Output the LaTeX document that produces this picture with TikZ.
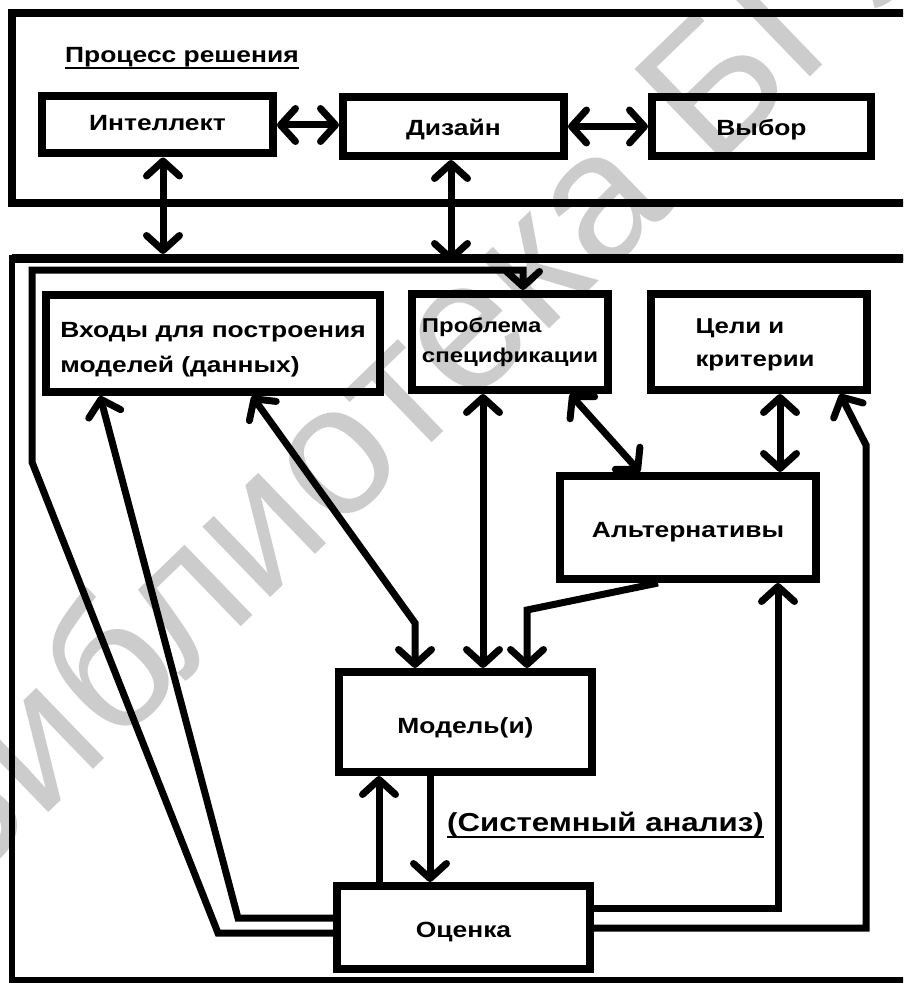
\documentclass[tikz,border=0pt]{standalone}
\usepackage{fontspec}
\setmainfont{Liberation Sans}
\newfontfamily\labfont{Liberation Sans}[FakeStretch=1.2]
\usetikzlibrary{arrows.meta}

\begin{document}
\begin{tikzpicture}[x=1pt, y=-1pt,
  lab/.style={font=\labfont\bfseries\fontsize{22pt}{35pt}\selectfont},
  box/.style={draw, line width=8pt, inner sep=0pt, align=left, lab},
  base/.style={text height=#1, text depth=0pt},
  link/.style={line width=7pt},
  frame/.style={line width=8pt},
  >={Straight Barb[length=15pt, width=33pt, round]}
]
\useasboundingbox (0,0) rectangle (903,984);
\clip (0,0) rectangle (903,984);

% watermark behind the diagram
\node[rotate=44, anchor=base west, inner sep=0pt, text=black!20,
      font=\fontsize{185pt}{185pt}\selectfont] (wm) at (-48,906) {Библиотека БГУИР};

% outer frames
\draw[frame] (910,13) -- (12,13) -- (12,203) -- (910,203);
\draw[line width=6pt] (910,258) -- (12,258) -- (12,980) -- (910,980);
\draw[line width=9pt] (12,258) -- (910,258);

% decision process
\node[anchor=base west, inner sep=0pt, lab] (proc) at (65,63) {Процесс решения};
\draw[line width=2pt] ([yshift=-5pt]proc.base west) -- ([yshift=-5pt]proc.base east);

\node[box, base=12pt, minimum width=231pt, minimum height=57pt] (intel)  at (157.5,125) {Интеллект};
\node[box, base=19pt, minimum width=221pt, minimum height=59pt] (dizain) at (453.5,126.5) {Дизайн};
\node[box, base=19pt, minimum width=219pt, minimum height=59pt] (vybor)  at (761.5,126.5) {Выбор};

\draw[link,<->] (intel.east) -- (intel.east -| dizain.west);
\draw[link,<->] (dizain.east) -- (vybor.west);

\coordinate (iDown) at (163,254);
\coordinate (dDown) at (451,262);
\draw[link,<->] (intel.south -| iDown) -- (iDown);
\draw[link,<->] (dizain.south -| dDown) -- (dDown);

% system analysis
\node[box, minimum width=334pt, minimum height=97pt] (vhody) at (213,343.5)
  {\rule{0pt}{27pt}Входы для построения\\моделей (данных)};
\node[box, minimum width=196pt, minimum height=96pt,
      font=\labfont\bfseries\fontsize{20pt}{30pt}\selectfont] (problema) at (510,342)
  {Проблема\\спецификации};
\node[box, minimum width=216pt, minimum height=96pt,
      font=\labfont\bfseries\fontsize{21.5pt}{33pt}\selectfont] (celi) at (759,342)
  {\rule{0pt}{20pt}Цели и\\критерии\hspace*{8pt}};
\node[box, base=19pt, minimum width=256pt, minimum height=103pt] (alt) at (688,527.5) {Альтернативы};
\node[box, base=22pt, minimum width=253pt, minimum height=100pt] (model) at (465.5,722) {Модель(и)};
\node[box, base=19pt, minimum width=253pt, minimum height=83pt] (ocenka) at (463.5,927.5) {Оценка};

\node[anchor=base west, inner sep=0pt, font=\labfont\bfseries\fontsize{26pt}{30pt}\selectfont]
  (sa) at (447,831) {(Системный анализ)};
\draw[line width=2pt] ([yshift=-6pt]sa.base west) -- ([yshift=-6pt]sa.base east);

% connector columns
\coordinate (xVin)  at (100,0);
\coordinate (xVm)   at (252,0);
\coordinate (xPm)   at (483,0);
\coordinate (xPa)   at (570,0);
\coordinate (xAp)   at (640,0);
\coordinate (xCa)   at (780,0);
\coordinate (xAm)   at (658,0);
\coordinate (xMa)   at (527,0);
\coordinate (xMv)   at (415,0);
\coordinate (xUp)   at (379,0);
\coordinate (xDn)   at (430,0);
\coordinate (xOa)   at (778,0);
\coordinate (xOc)   at (840,0);
\coordinate (pin)   at (523,270);

% feedback from evaluation to the problem specification
\draw[link,->] ([yshift=-5.5pt]ocenka.west) -- (218,933) -- (32,462) -- (32,270)
  -- (pin) -- (pin |- problema.north);
% feedback from evaluation to the inputs
\draw[link,->] ([yshift=9.5pt]ocenka.west) -- (238,918) -- (vhody.south -| xVin);
% inputs and models
\draw[link,<->] (vhody.south -| xVm) -- (415,623) -- (model.north -| xMv);
% problem and models
\draw[link,<->] (problema.south -| xPm) -- (model.north -| xPm);
% problem and alternatives
\draw[link,<->] (problema.south -| xPa) -- (alt.north -| xAp);
% goals and alternatives
\draw[link,<->] (celi.south -| xCa) -- (alt.north -| xCa);
% alternatives to models
\draw[link,->] (alt.south -| xAm) -- (527,610) -- (model.north -| xMa);
% models and evaluation
\draw[link,->] (ocenka.north -| xUp) -- (model.south -| xUp);
\draw[link,->] (model.south -| xDn) -- (ocenka.north -| xDn);
% evaluation to alternatives and goals
\draw[link,->] ([yshift=19.5pt]ocenka.east) -- (778,908) -- (alt.south -| xOa);
\draw[link,->] ([yshift=-0.5pt]ocenka.east) -- (866,928) -- (866,445) -- (celi.south -| xOc);
\end{tikzpicture}
\end{document}
